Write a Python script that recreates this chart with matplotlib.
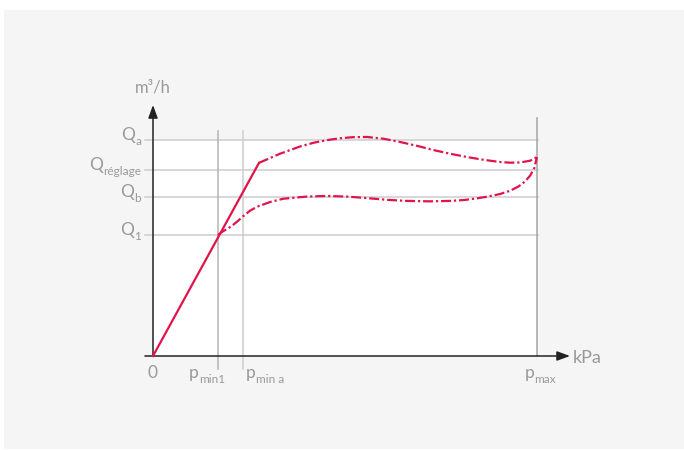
#
# Flow / pressure characteristic of a regulating valve.
# Upper curve: flow at Qa, lower curve: flow at Qb, solid start-up line.
#

import matplotlib.pyplot as plt
from matplotlib.patches import Rectangle


#######################################################################

# Pressure positions (0 = origin, pmax = 1) and flow levels (Qa = 1).
p_values = [0.169, 0.234, 1.0]
p_subs = ['min1', 'min a', 'max']

q_values = [1.0, 0.861, 0.736, 0.560]
q_subs = ['a', 'réglage', 'b', '1']

# Solid start-up line, origin to the knee.
start_p = [0.0, 0.276]
start_q = [0.0, 0.894]

# Upper dash-dot curve.
upper_p = [0.276, 0.330, 0.383, 0.420, 0.455, 0.487, 0.520, 0.557,
           0.600, 0.643, 0.690, 0.729, 0.775, 0.818, 0.862, 0.904,
           0.930, 0.956, 0.982, 0.995, 1.0]
upper_q = [0.894, 0.936, 0.970, 0.988, 1.000, 1.008, 1.013, 1.014,
           1.006, 0.991, 0.972, 0.954, 0.936, 0.921, 0.908, 0.898,
           0.895, 0.896, 0.904, 0.915, 0.926]

# Lower dash-dot curve.
lower_p = [0.169, 0.182, 0.195, 0.208, 0.221, 0.234, 0.252, 0.271,
           0.305, 0.339, 0.400, 0.453, 0.505, 0.557, 0.610, 0.661,
           0.720, 0.773, 0.810, 0.844, 0.875, 0.904, 0.930, 0.952,
           0.969, 0.982, 0.993, 1.0]
lower_q = [0.560, 0.577, 0.590, 0.606, 0.625, 0.646, 0.672, 0.691,
           0.713, 0.728, 0.738, 0.741, 0.738, 0.731, 0.723, 0.718,
           0.716, 0.718, 0.722, 0.730, 0.739, 0.750, 0.765, 0.785,
           0.808, 0.835, 0.870, 0.921]


#######################################################################

red = '#e0144a'
grey_text = '#999999'
grid = '#cdcdcd'

plt.rcParams['font.family'] = ['Lato', 'DejaVu Sans']

fig = plt.figure(figsize=(6.84, 4.5), dpi=100, facecolor='white')
renderer = fig.canvas.get_renderer()

# Light grey panel behind everything.
panel = Rectangle((4 / 684, 1 / 450), 680 / 684, 439 / 450,
                  transform=fig.transFigure, facecolor='#f5f5f5',
                  edgecolor='none', zorder=-10)
fig.patches.append(panel)

ax = fig.add_axes([153 / 684, 94 / 450, 384 / 684, 216 / 450])
ax.set_zorder(1)
ax.set_facecolor('white')
ax.set_xlim(0, 1)
ax.set_ylim(0, 1)
ax.set_xticks([])
ax.set_yticks([])
for s in ax.spines.values():
    s.set_visible(False)


def sub_label(x, y, main, sub, ha):

    # Letter plus a lowered, smaller subscript, aligned as a whole.
    kw = dict(xy=(x, y), textcoords='offset pixels', va='baseline',
              ha='left', color=grey_text, annotation_clip=False)
    t_main = ax.annotate(main, xytext=(0, 0), fontsize=12.5, **kw)
    t_sub = ax.annotate(sub, xytext=(0, -5), fontsize=8.5, **kw)
    w_main = t_main.get_window_extent(renderer).width
    w_sub = t_sub.get_window_extent(renderer).width
    total = w_main + w_sub
    if ha == 'right':
        left = -total
    elif ha == 'center':
        left = -total / 2
    else:
        left = 0
    t_main.set_position((left, 0))
    t_sub.set_position((left + w_main, -5))


# Horizontal grid lines and Q labels.
for q, sub in zip(q_values, q_subs):
    ax.plot([-0.021, 1.003], [q, q], color=grid, lw=1.1, clip_on=False,
            zorder=1)
    sub_label(-0.031, q, 'Q', sub, 'right')

# Vertical lines at pmin1, pmin a and pmax.
ax.plot([p_values[0]] * 2, [-0.06, 1.042], color='#b4b4b4', lw=1.1,
        clip_on=False, zorder=1)
ax.plot([p_values[1]] * 2, [-0.06, 1.042], color=grid, lw=1.1,
        clip_on=False, zorder=1)
ax.plot([p_values[2]] * 2, [0, 1.102], color='#a5a5a5', lw=1.1,
        clip_on=False, zorder=1)

# p labels under the axis.
p_text_x = [0.141, 0.292, 1.008]
for x, sub in zip(p_text_x, p_subs):
    sub_label(x, -0.102, 'p', sub, 'center')
ax.text(0, -0.102, '0', ha='center', va='baseline', fontsize=12.5,
        color=grey_text, clip_on=False)

# Axes with arrows.
arrow = dict(arrowstyle='-|>,head_length=0.6,head_width=0.22',
             color='#222222', lw=1.1, mutation_scale=13,
             shrinkA=0, shrinkB=0)
ax.annotate('', xy=(0, 1.162), xytext=(0, 0), arrowprops=arrow,
            annotation_clip=False)
ax.annotate('', xy=(1.086, 0), xytext=(-0.021, 0), arrowprops=arrow,
            annotation_clip=False)

ax.text(0, 1.222, 'm³/h', ha='center', va='baseline', fontsize=12,
        color=grey_text, clip_on=False)
ax.text(1.094, -0.032, 'kPa', ha='left', va='baseline', fontsize=13,
        color=grey_text, clip_on=False)

# The curves.
ax.plot(start_p, start_q, color=red, lw=1.6, clip_on=False, zorder=3)
ax.plot(upper_p, upper_q, color=red, lw=1.6, clip_on=False, zorder=3,
        linestyle=(0, (4.5, 1.3, 1.0, 1.3)))
ax.plot(lower_p, lower_q, color=red, lw=1.6, clip_on=False, zorder=3,
        linestyle=(0, (4.5, 1.3, 1.0, 1.3)))

fig.savefig('out.png', dpi=100, facecolor='white')
